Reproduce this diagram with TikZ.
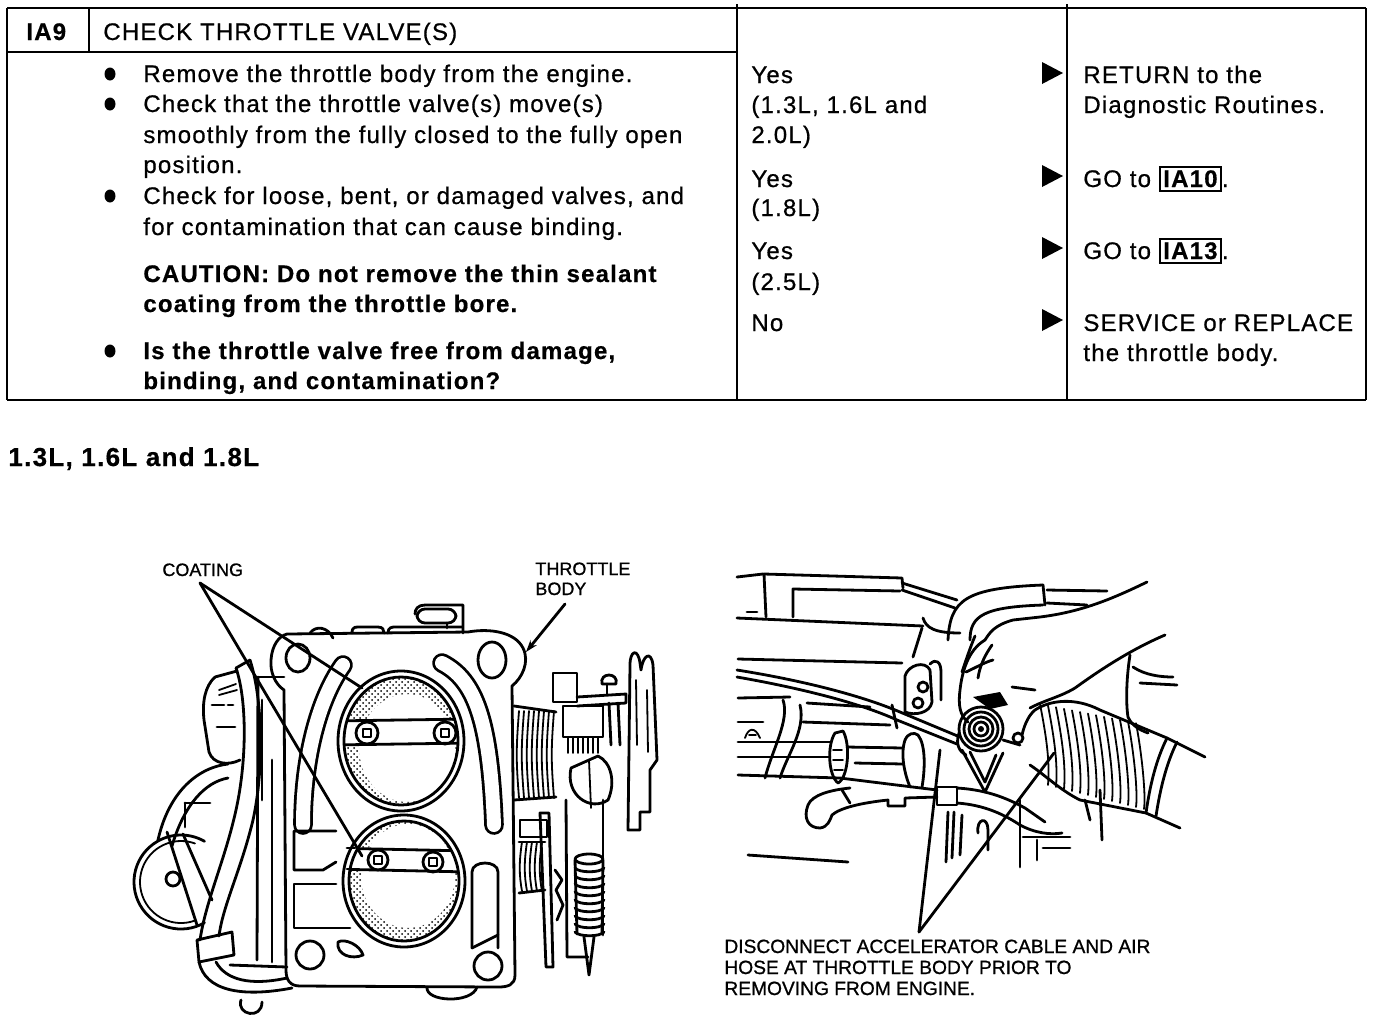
\documentclass[tikz,border=0pt]{standalone}
\usepackage{fontspec}
\setmainfont{Liberation Sans}
\newfontfamily\tabfont{Liberation Sans}[LetterSpace=5, UprightFeatures={FakeBold=0.7}, BoldFeatures={FakeBold=0.6}]
\newfontfamily\lblfont{Liberation Sans}[UprightFeatures={FakeBold=0.9}]
\usetikzlibrary{patterns,arrows.meta}
\setlength{\fboxsep}{1.2pt}
\setlength{\fboxrule}{1pt}
\begin{document}
\begin{tikzpicture}[x=0.5pt,y=-0.5pt,
  tl/.style={line width=1.1pt},
  tx/.style={anchor=base west, inner sep=0pt, font=\tabfont\fontsize{12}{14}\selectfont},
  bx/.style={anchor=base west, inner sep=0pt, font=\tabfont\fontsize{12}{14}\selectfont\bfseries},
  hd/.style={anchor=base west, inner sep=0pt, font=\tabfont\fontsize{13}{15}\selectfont\bfseries},
  lb/.style={anchor=base west, inner sep=0pt, font=\lblfont\fontsize{9}{10}\selectfont},
  lbb/.style={anchor=base west, inner sep=0pt, font=\lblfont\fontsize{9.6}{10.5}\selectfont},
  dr/.style={line width=1.4pt, line cap=round, line join=round},
  th/.style={line width=0.9pt, line cap=round, line join=round},
  groove/.style={line width=1.4pt, double distance=7pt, line cap=round},
  tri/.style={fill=black}]
\useasboundingbox (0,0) rectangle (1376,1024);

% ================= TABLE =================
\draw[tl] (7,8) -- (1366,8);
\draw[tl] (7,8) -- (7,400);
\draw[line width=1.4pt] (7,400) -- (1366,400);
\draw[tl] (1366,8) -- (1366,400);
\draw[tl] (737,4) -- (737,400);
\draw[tl] (1067,4) -- (1067,400);
\draw[tl] (89,8) -- (89,52);
\draw[tl] (7,52) -- (737,52);

\node[bx] (ia9) at (26,40) {IA9};
\node[tx] (title) at (103,40) {CHECK THROTTLE VALVE(S)};

\fill (110,74) ellipse [x radius=5.5, y radius=6.5];
\fill (110,104) ellipse [x radius=5.5, y radius=6.5];
\fill (110,196) ellipse [x radius=5.5, y radius=6.5];
\fill (110,351) ellipse [x radius=5.5, y radius=6.5];

\node[tx] (a1) at (143,82) {Remove the throttle body from the engine.};
\node[tx] (a2) at (143,112) {Check that the throttle valve(s) move(s)};
\node[tx] (a3) at (143,143) {smoothly from the fully closed to the fully open};
\node[tx] (a4) at (143,173) {position.};
\node[tx] (a5) at (143,204) {Check for loose, bent, or damaged valves, and};
\node[tx] (a6) at (143,235) {for contamination that can cause binding.};
\node[bx] (a7) at (143,282) {CAUTION: Do not remove the thin sealant};
\node[bx] (a8) at (143,312) {coating from the throttle bore.};
\node[bx] (a9) at (143,359) {Is the throttle valve free from damage,};
\node[bx] (a10) at (143,389) {binding, and contamination?};

\node[tx] (b1) at (751,83) {Yes};
\node[tx] (b2) at (751,113) {(1.3L, 1.6L and};
\node[tx] (b3) at (751,143) {2.0L)};
\node[tx] (b4) at (751,187) {Yes};
\node[tx] (b5) at (751,216) {(1.8L)};
\node[tx] (b6) at (751,259) {Yes};
\node[tx] (b7) at (751,290) {(2.5L)};
\node[tx] (b8) at (751,331) {No};

\fill[tri] (1042,62) -- (1063,73) -- (1042,84) -- cycle;
\fill[tri] (1042,165) -- (1063,176) -- (1042,187) -- cycle;
\fill[tri] (1042,237) -- (1063,248) -- (1042,259) -- cycle;
\fill[tri] (1042,309) -- (1063,320) -- (1042,331) -- cycle;

\node[tx] (c1) at (1083,83) {RETURN to the};
\node[tx] (c2) at (1083,113) {Diagnostic Routines.};
\node[tx] (c3) at (1083,187) {GO to \fbox{\bfseries IA10}.};
\node[tx] (c4) at (1083,259) {GO to \fbox{\bfseries IA13}.};
\node[tx] (c5) at (1083,331) {SERVICE or REPLACE};
\node[tx] (c6) at (1083,361) {the throttle body.};

\node[hd] (head) at (8,466) {1.3L, 1.6L and 1.8L};

% ================= LEFT ILLUSTRATION =================
\node[lb] (coat) at (162,576) {COATING};
\node[lb] (tb1) at (535,575) {THROTTLE};
\node[lb] (tb2) at (535,595) {BODY};

% pulley
\draw[dr] (181,882) ++(60:47) arc [start angle=60, end angle=300, radius=47];
\draw[th] (181,882) ++(70:41) arc [start angle=70, end angle=290, radius=41];
\draw[dr] (173,879) circle [radius=7];
% loop tube
\draw[dr] (158,840) .. controls (168,795) and (195,768) .. (228,764);
\draw[dr] (172,846) .. controls (184,805) and (205,782) .. (228,778);
\draw[dr] (167,832) -- (197,925);
\draw[dr] (183,834) -- (212,900);
\draw[dr] (185,803) -- (185,827);
\draw[dr] (185,803) -- (210,803);
% sensor block
\draw[dr] (215,677) .. controls (205,686) and (202,702) .. (204,720) -- (209,752) .. controls (213,764) and (228,766) .. (240,760);
\draw[dr] (215,677) -- (237,671);
\draw[th] (219,690) -- (236,684);
\draw[th] (219,695) -- (237,690);
\draw[dr] (212,705) -- (224,705);
\draw[dr] (228,705) -- (233,705);
\draw[dr] (217,727) -- (235,727);
% hose band
\draw[dr] (236,668) .. controls (247,700) and (247,760) .. (236,810) .. controls (225,860) and (206,900) .. (200,940);
\draw[dr] (250,660) .. controls (263,700) and (264,770) .. (253,820) .. controls (241,870) and (223,905) .. (219,936);
\draw[dr] (236,668) -- (250,660);
\draw[dr] (197,940) -- (232,932) -- (234,955) -- (199,962) -- cycle;
\draw[dr] (199,962) .. controls (205,990) and (240,998) .. (292,988);
\draw[dr] (216,962) .. controls (226,980) and (250,986) .. (287,978);
\draw[dr] (230,965) -- (287,967);
% housing behind flange
\draw[dr] (258,677) -- (284,677);
\draw[dr] (258,677) -- (257,960);
\draw[dr] (272,760) -- (272,962);
\draw[dr] (262,700) -- (262,800);
\draw[dr] (241,1000) .. controls (236,1015) and (262,1020) .. (262,1002);

% flange outline
\draw[dr] (287,634) -- (468,632) .. controls (490,628) and (515,632) .. (523,648) .. controls (530,662) and (522,678) .. (512,686) -- (515,975) .. controls (515,985) and (508,987) .. (498,987) -- (300,986) .. controls (290,986) and (286,980) .. (286,970) -- (284,690) .. controls (275,684) and (270,672) .. (271,660) .. controls (272,645) and (279,636) .. (287,634) -- cycle;
% top bumps and boss
\draw[dr] (310,633) .. controls (316,625) and (328,627) .. (333,638);
\draw[dr] (352,633) .. controls (352,626) and (356,627) .. (362,627) -- (378,627) .. controls (383,627) and (384,630) .. (384,633);
\draw[dr] (388,633) .. controls (388,627) and (392,627) .. (396,627) -- (462,627);
\draw[dr] (463,633) -- (463,605) -- (425,605) .. controls (418,605) and (415,609) .. (415,614);
\draw[dr, rounded corners=4pt] (417,609) rectangle (456,623);
\draw[dr] (447,623) -- (447,628);
% holes
\draw[dr] (298,658) ellipse [x radius=12, y radius=14];
\draw[dr] (492,660) ellipse [x radius=14, y radius=18];
\draw[dr] (310,955) circle [radius=14];
\draw[dr] (488,966) circle [radius=14];
\draw[dr] (338,942) .. controls (336,955) and (352,960) .. (363,955) .. controls (360,945) and (345,938) .. (338,942) -- cycle;
\draw[dr] (427,987) .. controls (425,1002) and (472,1004) .. (477,987);
% grooves
\draw[groove] (343,665) .. controls (318,700) and (303,760) .. (303,825);
\draw[groove] (442,663) .. controls (475,680) and (490,720) .. (494,825);
% lower recesses
\draw[dr] (336,831) -- (294,831) -- (294,870) -- (323,870) -- (336,862);
\draw[dr] (336,884) -- (294,884) -- (294,928) -- (350,928);
\draw[dr] (472,948) -- (472,872) .. controls (472,860) and (498,860) .. (498,872) -- (498,948);
\draw[dr] (472,948) -- (498,935);

% upper bore
\begin{scope}
  \clip (401,741) ellipse [x radius=57, y radius=64];
  \fill[pattern=crosshatch dots, even odd rule] (401,741) ellipse [x radius=57, y radius=64] (407,748) ellipse [x radius=48, y radius=54];
  \fill[white] (330,721) rectangle (470,745);
  \draw[dr] (330,721) -- (470,719);
  \draw[dr] (330,745) -- (470,743);
\end{scope}
\draw[dr] (401,741) ellipse [x radius=57, y radius=64];
\draw[dr] (401,741) ellipse [x radius=63, y radius=70];
\draw[dr] (367,733) circle [radius=11];
\draw[th] (363,729) rectangle (371,737);
\draw[dr] (445,733) circle [radius=11];
\draw[th] (441,729) rectangle (449,737);
% lower bore
\begin{scope}
  \clip (404,881) ellipse [x radius=55, y radius=60];
  \fill[pattern=crosshatch dots, even odd rule] (404,881) ellipse [x radius=55, y radius=60] (408,876) ellipse [x radius=47, y radius=52];
  \fill[white] (330,849) rectangle (470,871);
  \draw[dr] (330,848) -- (470,851);
  \draw[dr] (330,869) -- (470,872);
\end{scope}
\draw[dr] (404,881) ellipse [x radius=55, y radius=60];
\draw[dr] (404,881) ellipse [x radius=61, y radius=66];
\draw[dr] (347,848) -- (355,848);
\draw[dr] (347,869) -- (352,869);
\draw[dr] (378,860) circle [radius=10];
\draw[th] (374,856) rectangle (382,864);
\draw[dr] (433,862) circle [radius=10];
\draw[th] (429,858) rectangle (437,866);

% right mechanism
\draw[dr] (514,706) -- (556,712);
\draw[dr] (514,800) -- (556,797);
\foreach \x in {519,524,...,554} \draw[th] (\x,711) .. controls (\x-3,750) and (\x-3,760) .. (\x,798);
\draw[dr] (520,820) rectangle (547,837);
\draw[dr] (519,842) -- (545,842);
\draw[dr] (519,893) -- (545,890);
\foreach \x in {522,527,...,542} \draw[th] (\x,842) .. controls (\x-3,862) and (\x-3,875) .. (\x,891);
\draw[dr] (553,673) rectangle (577,702);
\draw[dr] (602,684) .. controls (599,672) and (619,672) .. (616,684) -- cycle;
\draw[dr] (607,684) -- (607,694);
\draw[dr] (577,697) -- (626,694) -- (626,703) -- (577,706);
\draw[dr] (563,706) rectangle (603,737);
\foreach \x in {568,573,...,598} \draw[th] (\x,737) -- (\x,753);
\draw[dr] (609,703) -- (611,745);
\draw[dr] (618,703) -- (620,745);
\draw[dr] (628,830) -- (630,665) .. controls (630,650) and (638,648) .. (640,663) -- (641,670) .. controls (643,655) and (651,650) .. (653,665) -- (657,760) -- (650,770) -- (650,812) -- (640,812) -- (640,830) -- cycle;
\draw[th] (636,680) -- (637,745);
\draw[th] (647,690) -- (648,752);
\draw[dr] (571,768) .. controls (565,795) and (590,812) .. (608,800) .. controls (616,782) and (611,762) .. (598,756) -- (571,768);
\draw[th] (589,760) -- (591,808);
\draw[dr] (540,813) -- (546,967) -- (553,967) -- (549,813) -- cycle;
\draw[dr] (566,800) -- (567,957) -- (588,957);
\draw[dr] (603,800) -- (603,935);
\draw[dr] (555,870) -- (562,880) -- (556,890) -- (563,905) -- (557,920);
\draw[dr] (589,859) ellipse [x radius=14, y radius=5];
\foreach \y in {868,876,...,932} \draw[dr] (575,\y) .. controls (579,\y+5) and (600,\y+5) .. (604,\y);
\draw[dr] (575,860) -- (577,934);
\draw[dr] (603,860) -- (602,934);
\draw[dr] (584,937) -- (589,975) -- (594,937);

% leaders
\coordinate (coatA) at (362,688);
\coordinate (coatB) at (362,856);
\coordinate (tbT) at (526,652);
\draw[dr] (200,583) -- (coatA);
\draw[dr] (200,583) -- (coatB);
\draw[dr, -{Stealth[length=6pt,width=4pt]}] (565,604) -- (tbT);

% ================= RIGHT ILLUSTRATION =================
\draw[dr] (737,577) -- (763,574);
\draw[dr] (766,617) -- (764,574) -- (902,578) -- (903,588);
\draw[dr] (793,617) -- (793,589) -- (900,591);
\draw[dr] (902,583) -- (957,600);
\draw[dr] (902,590) -- (955,608);
\draw[dr] (737,618) -- (923,626);
\draw[dr] (747,612) -- (757,612);
\draw[dr] (922,628) -- (913,657);
\draw[dr] (923,618) .. controls (926,628) and (935,633) .. (960,633);
% upper hose and pipes
\draw[dr] (948,640) .. controls (950,600) and (965,588) .. (1043,585);
\draw[dr] (970,640) .. controls (970,615) and (985,607) .. (1043,605);
\draw[dr] (1043,585) -- (1045,605);
\draw[dr] (1047,590) -- (1107,591);
\draw[dr] (1047,603) -- (1087,605);
% arm and hand
\draw[dr] (1147,582) .. controls (1110,600) and (1080,612) .. (1040,617) -- (1013,620) .. controls (995,625) and (990,632) .. (985,640);
\draw[dr] (1165,635) .. controls (1130,650) and (1100,670) .. (1075,688) .. controls (1060,697) and (1045,700) .. (1030,708);
\draw[dr] (985,640) .. controls (968,650) and (962,672) .. (960,690) .. controls (958,705) and (960,716) .. (968,722);
\draw[dr] (975,636) .. controls (970,648) and (966,660) .. (962,672);
\draw[dr] (992,645) .. controls (985,655) and (980,665) .. (978,678);
\draw[dr] (966,672) .. controls (975,668) and (985,662) .. (993,660);
% throttle body
\foreach \r in {22,17,12,7} \draw[dr] (981,729) circle [radius=\r];
\fill (981,729) circle [radius=3];
\draw[dr] (959,733) .. controls (955,745) and (960,752) .. (966,755);
\draw[dr] (962,750) -- (985,792) -- (1003,753);
\draw[dr] (970,752) -- (985,782) -- (996,755);
\fill (973,697) -- (1000,692) -- (1008,705) -- (990,709) -- cycle;
\draw[dr] (1012,687) -- (1035,690);
\draw[dr] (1003,740) -- (1020,745);
\draw[dr] (1018,738) circle [radius=5];
% bracket with holes
\draw[dr] (905,676) .. controls (908,665) and (925,660) .. (930,670) -- (932,702) .. controls (930,713) and (915,716) .. (905,712) -- cycle;
\draw[dr] (923,687) circle [radius=5];
\draw[dr] (918,703) circle [radius=5];
\draw[dr] (930,664) .. controls (936,658) and (941,662) .. (941,672) -- (941,700);
% cable
\draw[dr] (737,670) .. controls (800,680) and (860,695) .. (900,712) -- (960,737);
\draw[dr] (737,677) .. controls (800,688) and (860,703) .. (897,720) -- (957,744);
\draw[dr] (892,705) -- (897,728);
\draw[dr] (738,659) -- (902,663);
% left structure lines
\draw[dr] (738,698) -- (790,697);
\draw[dr] (807,703) -- (870,707);
\draw[dr] (738,722) -- (763,722);
\draw[dr] (803,722) -- (890,725);
\draw[dr] (738,742) -- (830,742);
\draw[dr] (738,757) -- (830,757);
\draw[dr] (738,775) -- (840,778) -- (937,790);
\draw[dr] (847,747) -- (903,748);
\draw[dr] (855,763) -- (903,764);
\draw[dr] (783,700) .. controls (790,720) and (772,750) .. (765,778);
\draw[dr] (800,705) .. controls (806,730) and (787,755) .. (780,778);
\draw[th] (745,738) .. controls (748,728) and (755,726) .. (760,738);
\draw[th] (749,735) -- (756,735);
\draw[dr] (835,733) .. controls (827,745) and (828,775) .. (838,783) .. controls (848,778) and (851,745) .. (843,731) -- cycle;
\draw[th] (833,750) -- (842,750);
\draw[th] (833,760) -- (843,760);
\draw[th] (834,770) -- (843,770);
\draw[dr] (905,740) .. controls (900,755) and (905,775) .. (910,787);
\draw[dr] (918,735) .. controls (926,745) and (925,770) .. (922,787);
\draw[dr] (905,740) .. controls (908,733) and (914,732) .. (918,735);
% lower pipes
\draw[dr] (850,788) .. controls (830,790) and (812,795) .. (808,805) .. controls (803,818) and (808,828) .. (820,828) .. controls (828,827) and (830,820) .. (832,815) .. controls (840,808) and (860,803) .. (888,800) -- (888,806) -- (905,806) -- (905,798) -- (937,797);
\draw[dr] (842,790) -- (850,803);
\draw[dr] (748,855) -- (848,862);
\draw[dr] (937,787) rectangle (957,805);
\draw[dr] (957,788) .. controls (990,790) and (1010,800) .. (1025,808) -- (1045,822);
\draw[dr] (957,803) .. controls (985,805) and (1005,815) .. (1020,825) .. controls (1035,833) and (1050,835) .. (1062,833);
\draw[dr] (948,812) -- (946,862);
\draw[dr] (954,812) -- (952,858);
\draw[dr] (962,815) -- (960,855);
\draw[dr] (978,833) .. controls (976,818) and (988,816) .. (988,830) -- (988,850);
\draw[dr] (1020,800) -- (1020,867);
\draw[dr] (1023,837) -- (1070,837);
\draw[dr] (1037,840) -- (1037,860);
\draw[dr] (1043,848) -- (1070,848);
% air hose
\draw[dr] (1022,735) .. controls (1025,722) and (1030,714) .. (1035,710) .. controls (1050,700) and (1075,697) .. (1100,710) -- (1167,738) -- (1205,757);
\draw[dr] (1030,765) .. controls (1045,775) and (1060,790) .. (1080,800) -- (1146,813) -- (1180,828);
\foreach \i in {0,...,12} \draw[th] (1040+8*\i,{704+1.6*\i}) .. controls (1046+8*\i,{735+1.6*\i}) and (1050+8*\i,{760+3*\i}) .. (1048+8*\i,{785+2*\i});
\draw[dr] (1167,738) .. controls (1156,760) and (1150,785) .. (1146,813);
\draw[dr] (1177,742) .. controls (1166,764) and (1160,790) .. (1156,816);
\draw[dr] (1130,655) .. controls (1126,680) and (1126,705) .. (1128,717) .. controls (1132,726) and (1140,730) .. (1148,733);
\draw[dr] (1133,667) .. controls (1145,675) and (1160,677) .. (1173,677);
\draw[dr] (1140,683) -- (1177,685);
\draw[dr] (1100,790) -- (1102,840);
\draw[dr] (1085,800) -- (1090,820);

% leaders and label
\node[lbb] (dis1) at (724,953) {DISCONNECT ACCELERATOR CABLE AND AIR};
\node[lbb] (dis2) at (724,974) {HOSE AT THROTTLE BODY PRIOR TO};
\node[lbb] (dis3) at (724,995) {REMOVING FROM ENGINE.};
\coordinate (tip) at (919,932);
\coordinate (endA) at (940,750);
\coordinate (endB) at (1054,753);
\draw[dr] (tip) -- (endA);
\draw[dr] (tip) -- (endB);
\end{tikzpicture}
\end{document}
